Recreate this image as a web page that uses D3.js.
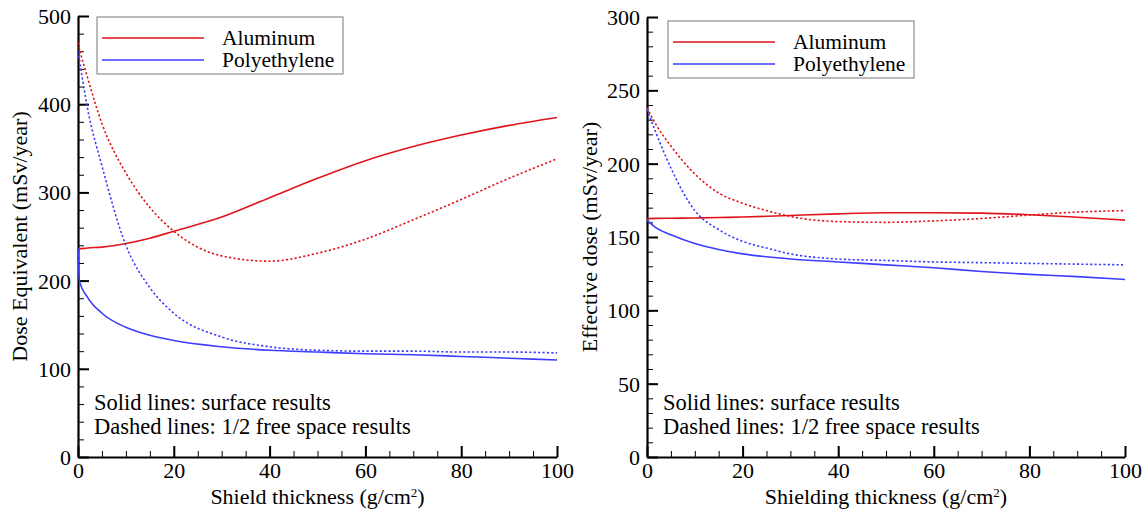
<!DOCTYPE html>
<html>
<head>
<meta charset="utf-8">
<script src="https://cdn.jsdelivr.net/npm/d3@7"></script>
<style>
  html, body { margin: 0; padding: 0; background: #fff; }
  svg { display: block; font-family: "Liberation Serif", "Times New Roman", serif; }
</style>
</head>
<body>
<svg id="chart"></svg>
<script>
// Canvas
const width = 1148;
const height = 516;

// Left panel: dose equivalent
const thickL = [0, 0.3, 2, 5, 10, 15, 20, 30, 40, 50, 60, 70, 80, 90, 100];
const alSurfL = [236, 236, 237, 238, 242, 248, 256, 272, 294, 316, 336, 352, 365, 376, 385];
const alFreeL = [470, 463, 430, 378, 322, 283, 256, 228, 222, 231, 247, 269, 292, 316, 338];
const peSurfL = [237, 200, 181, 163, 147, 138, 132, 125, 121, 119, 117, 116, 114, 112, 110];
const peFreeL = [460, 450, 395, 330, 240, 192, 163, 136, 125, 121, 120, 120, 119, 119, 118];

// Right panel: effective dose
const thickR = [0, 2, 5, 10, 15, 20, 25, 30, 40, 50, 60, 70, 80, 90, 100];
const alSurfR = [162.5, 162.7, 162.8, 163, 163.3, 163.6, 164.1, 164.7, 165.8, 166.5, 166.5, 166.3, 165.2, 163.5, 161.5];
const alFreeR = [238, 226, 212, 193, 180, 173, 168, 164, 160.5, 160, 161, 162.6, 165, 167, 168];
const peSurfR = [161.5, 156, 151.5, 145.5, 141.5, 138.5, 136.5, 135, 133, 131, 129, 126.5, 124.5, 123, 121];
const peFreeR = [237, 220, 197, 168, 155, 147, 142.5, 138.5, 135, 134, 133, 132.5, 132, 131.5, 131];

// Ticks and labels
const xMajor = [0, 20, 40, 60, 80, 100];
const yMajorL = [0, 100, 200, 300, 400, 500];
const yMajorR = [0, 50, 100, 150, 200, 250, 300];
const legendNames = ["Aluminum", "Polyethylene"];
const noteLines = ["Solid lines: surface results", "Dashed lines: 1/2 free space results"];

const RED = "#e0141b";
const BLUE = "#3d3dff";
const FONT = 22;

const svg = d3.select("#chart")
    .attr("width", width)
    .attr("height", height);

function drawPanel(p) {
    const x = d3.scaleLinear().domain([0, 100]).range([p.left, p.right]);
    const y = d3.scaleLinear().domain([0, p.yMax]).range([p.bottom, p.top]);
    const g = svg.append("g");

    // minor ticks (inward)
    g.append("g")
        .attr("transform", `translate(0,${p.bottom})`)
        .call(d3.axisBottom(x).tickValues(d3.range(0, 101, 5)).tickSize(-6).tickFormat(""))
        .call(s => s.select(".domain").remove())
        .call(s => s.selectAll("line").attr("stroke", "#000").attr("stroke-width", 1));
    g.append("g")
        .attr("transform", `translate(${p.left},0)`)
        .call(d3.axisLeft(y).tickValues(d3.range(0, p.yMax + 1, p.yMinor)).tickSize(-6).tickFormat(""))
        .call(s => s.select(".domain").remove())
        .call(s => s.selectAll("line").attr("stroke", "#000").attr("stroke-width", 1));

    // major ticks with labels
    const xAxis = g.append("g")
        .attr("transform", `translate(0,${p.bottom})`)
        .call(d3.axisBottom(x).tickValues(xMajor).tickSize(-11).tickPadding(5).tickSizeOuter(0));
    const yAxis = g.append("g")
        .attr("transform", `translate(${p.left},0)`)
        .call(d3.axisLeft(y).tickValues(p.yMajor).tickSize(-11).tickPadding(7).tickSizeOuter(0));
    [xAxis, yAxis].forEach(a => {
        a.select(".domain").attr("stroke", "#000").attr("stroke-width", 2.2);
        a.selectAll(".tick line").attr("stroke", "#000").attr("stroke-width", 2);
        a.selectAll(".tick text")
            .attr("fill", "#000")
            .style("font-family", "'Liberation Serif', 'Times New Roman', serif")
            .style("font-size", FONT + "px");
    });
    yAxis.selectAll(".tick text").attr("dy", "0.34em");

    // curves
    const line = d3.line()
        .x(d => x(d[0]))
        .y(d => y(d[1]))
        .curve(d3.curveMonotoneX);
    p.series.forEach(s => {
        g.append("path")
            .datum(p.thick.map((t, i) => [t, s.values[i]]))
            .attr("fill", "none")
            .attr("stroke", s.color)
            .attr("stroke-width", 1.6)
            .attr("stroke-dasharray", s.dashed ? "2.2,2.2" : null)
            .attr("d", line);
    });

    // legend
    const lg = g.append("g").attr("transform", `translate(${p.legend[0]},${p.legend[1]})`);
    lg.append("rect")
        .attr("width", 246).attr("height", 57)
        .attr("fill", "#fff").attr("stroke", "#777").attr("stroke-width", 1);
    legendNames.forEach((name, i) => {
        const yy = 21 + i * 22;
        lg.append("line")
            .attr("x1", 5).attr("x2", 107).attr("y1", yy).attr("y2", yy)
            .attr("stroke", i === 0 ? RED : BLUE).attr("stroke-width", 1.6);
        lg.append("text")
            .attr("x", 125).attr("y", yy + 7)
            .style("font-size", "21.5px")
            .text(name);
    });

    // note
    noteLines.forEach((t, i) => {
        g.append("text")
            .attr("x", p.left + 16).attr("y", 409.5 + i * 24)
            .style("font-size", "22.5px")
            .text(t);
    });

    // axis titles
    const xt = g.append("text")
        .attr("x", (p.left + p.right) / 2).attr("y", 504)
        .attr("text-anchor", "middle")
        .style("font-size", FONT + "px")
        .text(p.xTitle + " (g/cm");
    xt.append("tspan").attr("baseline-shift", "super").style("font-size", "13px").text("2");
    xt.append("tspan").text(")");

    g.append("text")
        .attr("transform", `translate(${p.yTitleX},${(p.top + p.bottom) / 2}) rotate(-90)`)
        .attr("text-anchor", "middle")
        .style("font-size", FONT + "px")
        .text(p.yTitle);
}

drawPanel({
    left: 78, right: 557, top: 16, bottom: 457,
    yMax: 500, yMinor: 20, yMajor: yMajorL,
    thick: thickL,
    series: [
        { values: alSurfL, color: RED, dashed: false },
        { values: alFreeL, color: RED, dashed: true },
        { values: peSurfL, color: BLUE, dashed: false },
        { values: peFreeL, color: BLUE, dashed: true }
    ],
    legend: [97, 17],
    xTitle: "Shield thickness",
    yTitle: "Dose Equivalent (mSv/year)",
    yTitleX: 27
});

drawPanel({
    left: 647, right: 1125, top: 17, bottom: 457,
    yMax: 300, yMinor: 10, yMajor: yMajorR,
    thick: thickR,
    series: [
        { values: alSurfR, color: RED, dashed: false },
        { values: alFreeR, color: RED, dashed: true },
        { values: peSurfR, color: BLUE, dashed: false },
        { values: peFreeR, color: BLUE, dashed: true }
    ],
    legend: [668, 21],
    xTitle: "Shielding thickness",
    yTitle: "Effective dose (mSv/year)",
    yTitleX: 597
});
</script>
</body>
</html>
